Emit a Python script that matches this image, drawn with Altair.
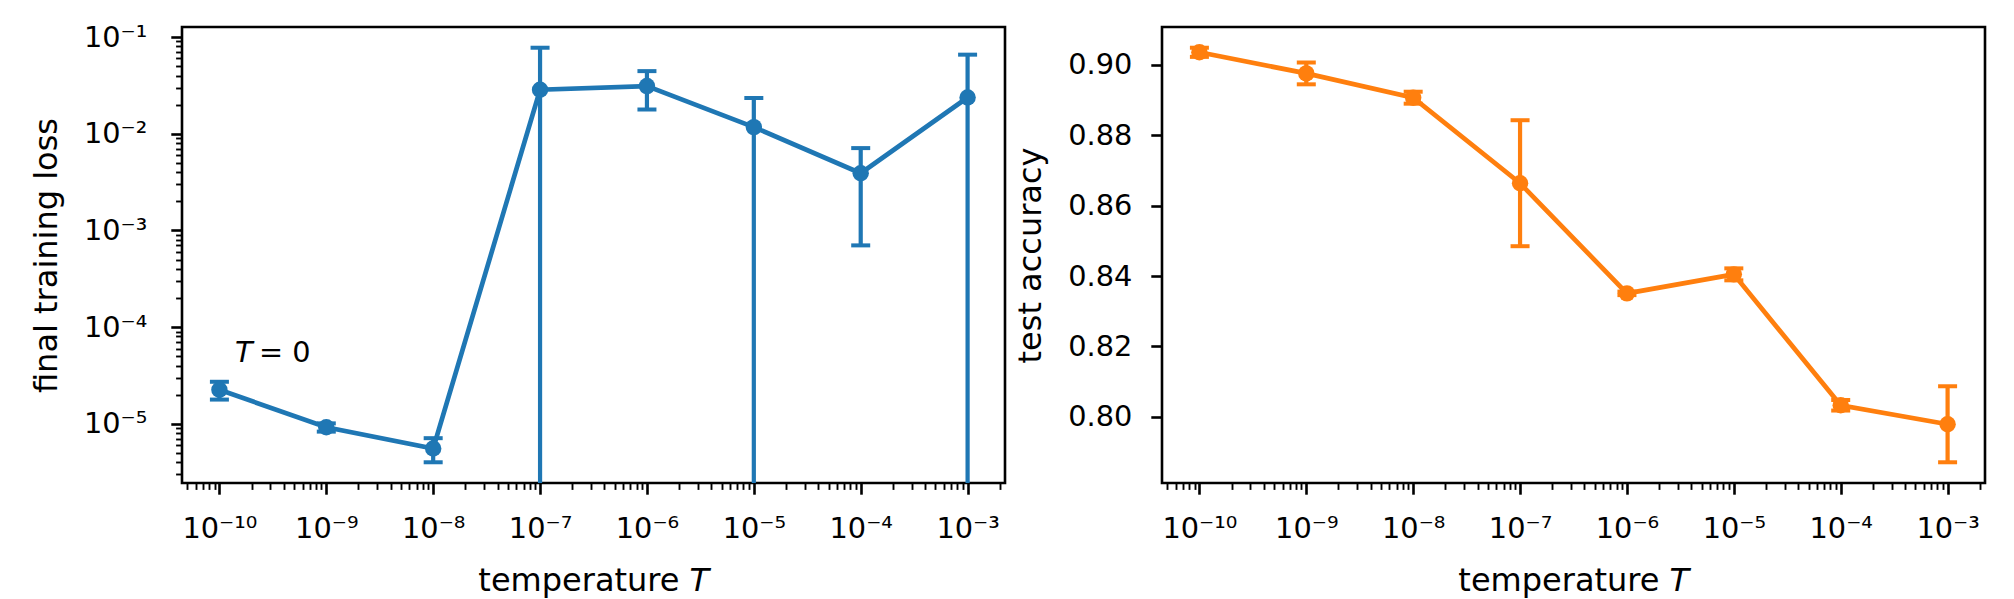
import math

import altair as alt
import pandas as pd

# Temperatures swept (log-spaced)
temperature = [1e-10, 1e-9, 1e-8, 1e-7, 1e-6, 1e-5, 1e-4, 1e-3]

# Final training loss: mean and standard deviation over runs
loss_mean = [2.25e-5, 9.2e-6, 5.55e-6, 0.0285, 0.0311, 0.0117, 0.0039, 0.0237]
loss_std = [4.7e-6, 0.9e-6, 1.55e-6, 0.049, 0.0133, 0.0117, 0.0032, 0.042]

# Test accuracy: mean and standard deviation over runs
acc_mean = [0.9036, 0.8976, 0.8907, 0.8664, 0.8351, 0.8405, 0.8033, 0.7979]
acc_std = [0.0013, 0.0031, 0.0017, 0.0179, 0.0005, 0.0017, 0.0015, 0.0108]

x_tick_values = [1e-10, 1e-9, 1e-8, 1e-7, 1e-6, 1e-5, 1e-4, 1e-3]
x_tick_labels = ["10⁻¹⁰", "10⁻⁹", "10⁻⁸", "10⁻⁷", "10⁻⁶", "10⁻⁵", "10⁻⁴", "10⁻³"]
loss_tick_values = [1e-5, 1e-4, 1e-3, 1e-2, 1e-1]
loss_tick_labels = ["10⁻⁵", "10⁻⁴", "10⁻³", "10⁻²", "10⁻¹"]
acc_tick_values = [0.80, 0.82, 0.84, 0.86, 0.88, 0.90]

BLUE = "#1f77b4"
ORANGE = "#ff7f0e"
FONT = "DejaVu Sans"
W, H = 823, 456
TICK_FS = 28.8
TITLE_FS = 32
LINE_W = 4.7
MARKER = 270
CAP = 19


def log_margin_domain(values, frac=0.05):
    lo, hi = math.log10(min(values)), math.log10(max(values))
    pad = (hi - lo) * frac
    return [10 ** (lo - pad), 10 ** (hi + pad)]


def lin_margin_domain(values, frac=0.05):
    lo, hi = min(values), max(values)
    pad = (hi - lo) * frac
    return [lo - pad, hi + pad]


def minor_log_ticks(domain):
    lo, hi = domain
    out = []
    for e in range(int(math.floor(math.log10(lo))) - 1, int(math.ceil(math.log10(hi))) + 1):
        for m in range(2, 10):
            v = m * 10 ** e
            if lo <= v <= hi:
                out.append(v)
    return out


def label_expr(values, labels):
    parts = []
    for v, lab in zip(values, labels):
        e = round(math.log10(v))
        parts.append(f"round(log(datum.value)/LN10) == {e} ? '{lab}'")
    return " : ".join(parts) + " : ''"


x_domain = log_margin_domain(temperature)

loss_lo = [m - s for m, s in zip(loss_mean, loss_std)]
loss_hi = [m + s for m, s in zip(loss_mean, loss_std)]
loss_domain = log_margin_domain([v for v in loss_lo + loss_hi if v > 0])
# non-positive lower bounds are clipped off the bottom of a log axis
loss_lo_draw = [v if v > 0 else 1e-12 for v in loss_lo]

acc_lo = [m - s for m, s in zip(acc_mean, acc_std)]
acc_hi = [m + s for m, s in zip(acc_mean, acc_std)]
acc_domain = lin_margin_domain(acc_lo + acc_hi)

loss_df = pd.DataFrame({"T": temperature, "v": loss_mean, "lo": loss_lo_draw, "hi": loss_hi})
acc_df = pd.DataFrame({"T": temperature, "v": acc_mean, "lo": acc_lo, "hi": acc_hi})

x_scale = alt.Scale(type="log", domain=x_domain, nice=False, zero=False)

x_major_axis = alt.Axis(
    values=x_tick_values,
    labelExpr=label_expr(x_tick_values, x_tick_labels),
    tickSize=11.2,
    tickWidth=2.6,
    labelPadding=20,
    orient="bottom",
    title=None,
)
x_minor_axis = alt.Axis(
    values=minor_log_ticks(x_domain),
    labels=False,
    tickSize=6.4,
    tickWidth=1.9,
    orient="bottom",
    title=None,
)


def x_title_layer():
    word = alt.Chart(pd.DataFrame({"t": ["temperature"]})).mark_text(
        font=FONT, fontSize=TITLE_FS, align="right", baseline="alphabetic", color="black"
    ).encode(text="t:N", x=alt.value(W / 2 + 86), y=alt.value(H + 108))
    sym = alt.Chart(pd.DataFrame({"t": ["T"]})).mark_text(
        font=FONT, fontSize=TITLE_FS, fontStyle="italic", align="left", baseline="alphabetic", color="black"
    ).encode(text="t:N", x=alt.value(W / 2 + 96), y=alt.value(H + 108))
    return [word, sym]


def series_layers(df, y_scale, y_axis, color):
    base = alt.Chart(df)
    x_plain = alt.X("T:Q", scale=x_scale, axis=None)
    bars = base.mark_rule(color=color, strokeWidth=4.2, opacity=1, clip=True).encode(
        x=x_plain, y=alt.Y("lo:Q", scale=y_scale, axis=None), y2="hi:Q"
    )
    cap_hi = base.mark_tick(
        orient="horizontal", size=CAP, thickness=4, color=color, opacity=1, clip=True
    ).encode(x=x_plain, y=alt.Y("hi:Q", scale=y_scale, axis=None))
    cap_lo = base.mark_tick(
        orient="horizontal", size=CAP, thickness=4, color=color, opacity=1, clip=True
    ).encode(x=x_plain, y=alt.Y("lo:Q", scale=y_scale, axis=None))
    line = base.mark_line(color=color, strokeWidth=LINE_W).encode(
        x=x_plain, y=alt.Y("v:Q", scale=y_scale, axis=None)
    )
    pts = base.mark_circle(color=color, size=MARKER, opacity=1).encode(
        x=alt.X("T:Q", scale=x_scale, axis=x_major_axis),
        y=alt.Y("v:Q", scale=y_scale, axis=y_axis),
    )
    return [bars, cap_hi, cap_lo, line, pts]


# Left panel: final training loss on log-log axes
loss_scale = alt.Scale(type="log", domain=loss_domain, nice=False, zero=False)
loss_axis = alt.Axis(
    values=loss_tick_values,
    labelExpr=label_expr(loss_tick_values, loss_tick_labels),
    tickSize=11.2,
    tickWidth=2.6,
    labelPadding=24,
    orient="left",
    title="final training loss",
    titlePadding=20,
)
loss_minor_axis = alt.Axis(
    values=minor_log_ticks(loss_domain),
    labels=False,
    tickSize=6.4,
    tickWidth=1.9,
    orient="left",
    title=None,
)
loss_minor = alt.Chart(loss_df).mark_point(opacity=0).encode(
    x=alt.X("T:Q", scale=x_scale, axis=x_minor_axis),
    y=alt.Y("v:Q", scale=loss_scale, axis=loss_minor_axis),
)
t0_sym = alt.Chart(pd.DataFrame({"T": [1.4e-10], "v": [4.4e-5], "t": ["T"]})).mark_text(
    font=FONT, fontSize=TICK_FS, fontStyle="italic", align="left", baseline="alphabetic", color="black"
).encode(
    x=alt.X("T:Q", scale=x_scale, axis=None),
    y=alt.Y("v:Q", scale=loss_scale, axis=None),
    text="t:N",
)
t0_rest = alt.Chart(pd.DataFrame({"T": [1.4e-10], "v": [4.4e-5], "t": ["= 0"]})).mark_text(
    font=FONT, fontSize=TICK_FS, align="left", baseline="alphabetic", color="black", dx=24
).encode(
    x=alt.X("T:Q", scale=x_scale, axis=None),
    y=alt.Y("v:Q", scale=loss_scale, axis=None),
    text="t:N",
)

left = alt.layer(
    *series_layers(loss_df, loss_scale, loss_axis, BLUE),
    loss_minor,
    t0_sym,
    t0_rest,
    *x_title_layer(),
).resolve_axis(x="independent", y="independent").properties(width=W, height=H)

# Right panel: test accuracy, log x and linear y
acc_scale = alt.Scale(type="linear", domain=acc_domain, nice=False, zero=False)
acc_axis = alt.Axis(
    values=acc_tick_values,
    format=".2f",
    tickSize=11.2,
    tickWidth=2.6,
    labelPadding=19,
    orient="left",
    title="test accuracy",
    titlePadding=20,
)
acc_minor = alt.Chart(acc_df).mark_point(opacity=0).encode(
    x=alt.X("T:Q", scale=x_scale, axis=x_minor_axis),
    y=alt.Y("v:Q", scale=acc_scale, axis=None),
)

right = alt.layer(
    *series_layers(acc_df, acc_scale, acc_axis, ORANGE),
    acc_minor,
    *x_title_layer(),
).resolve_axis(x="independent", y="independent").properties(width=W, height=H)

chart = (
    alt.hconcat(left, right, spacing=157, bounds="flush")
    .configure(font=FONT, background="white", padding={"left": 29, "top": 21, "right": 5, "bottom": 5})
    .configure_view(stroke="black", strokeWidth=2.6)
    .configure_axis(
        labelFont=FONT,
        labelFontSize=TICK_FS,
        labelColor="black",
        tickColor="black",
        domain=False,
        grid=False,
        titleFont=FONT,
        titleFontSize=TITLE_FS,
        titleFontWeight="normal",
        titleColor="black",
    )
)

chart.save("out.html", embed_options={"renderer": "svg", "actions": False})
